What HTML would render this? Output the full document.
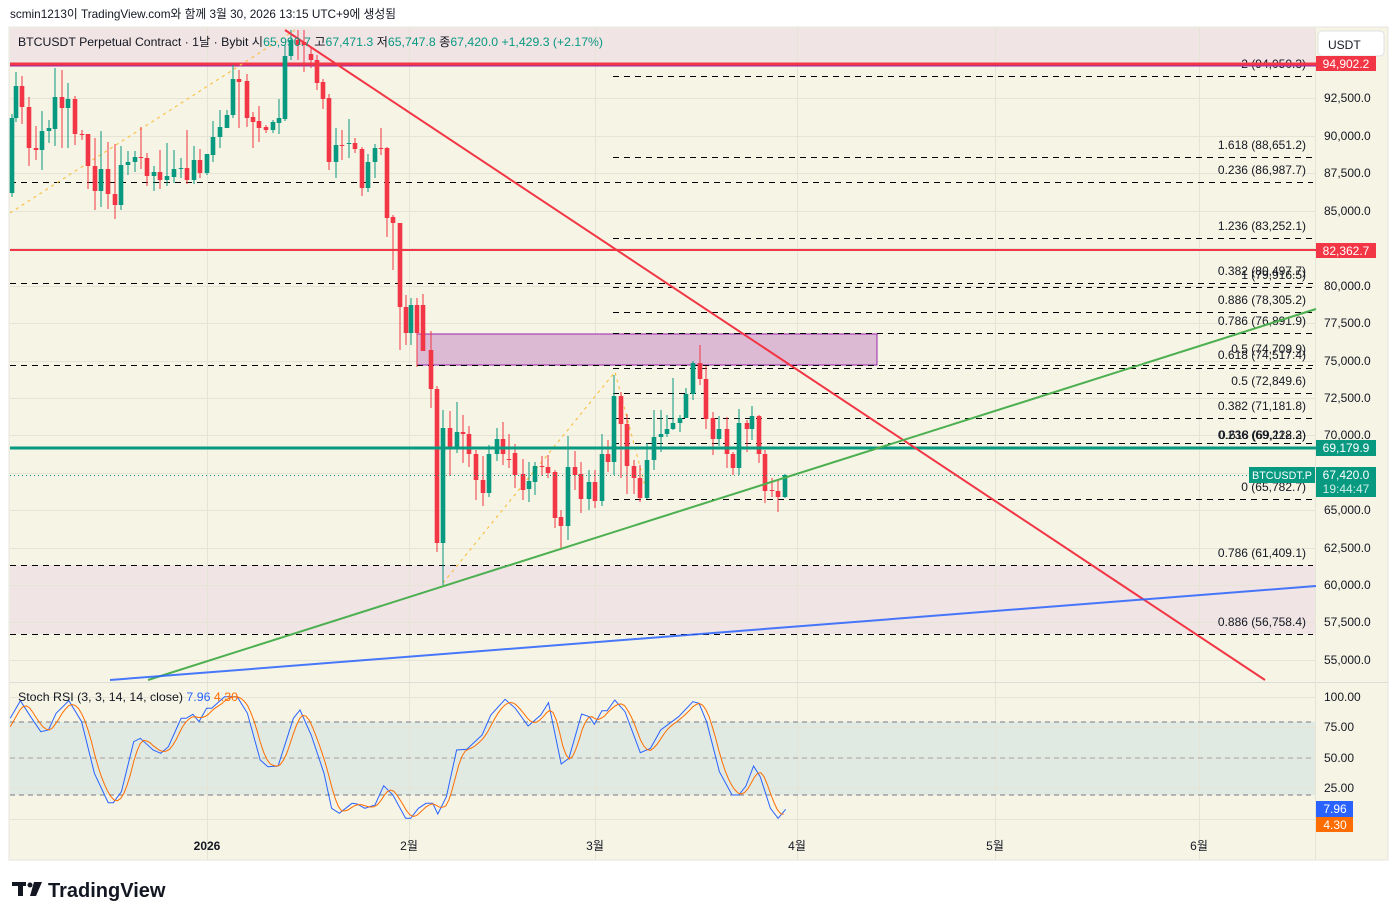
<!DOCTYPE html>
<html><head><meta charset="utf-8"><style>
html,body{margin:0;padding:0;background:#fff;width:1397px;height:920px;overflow:hidden}
svg{display:block}
text{font-family:"Liberation Sans","Noto Sans CJK KR",sans-serif}
</style></head><body>
<svg id="s" width="1397" height="920" viewBox="0 0 1397 920" xmlns="http://www.w3.org/2000/svg">
<rect x="0" y="0" width="1397" height="920" fill="#fff"/>
<text x="10" y="18" font-size="12" fill="#131722" textLength="386" lengthAdjust="spacingAndGlyphs">scmin1213이 TradingView.com와 함께 3월 30, 2026 13:15 UTC+9에 생성됨</text>
<rect x="9" y="27" width="1379" height="833" fill="#f6f4e4" stroke="#e6e4dc"/>
<rect x="10" y="28" width="1306" height="36" fill="#f0e4e4"/>
<rect x="10" y="565" width="1306" height="69" fill="#f0e4e4"/>
<rect x="10" y="722" width="1305" height="73" fill="#e0eae3"/>
<g id="grid" stroke="#e6e4d6" stroke-width="1"></g>
<line x1="10" y1="682.5" x2="1388" y2="682.5" stroke="#dcdcd8"/>
<line x1="1315.5" y1="28" x2="1315.5" y2="860" stroke="#e6e4d6"/>
<rect x="417" y="334" width="460" height="31" fill="#dcbad4" stroke="#9c27b0" stroke-width="1"/>
<g id="fib" stroke="#000" stroke-width="1" stroke-dasharray="6,5"></g>
<g id="fibt" font-size="12" fill="#131722" text-anchor="end"></g>
<line x1="10" y1="64" x2="1316" y2="64" stroke="#f23645" stroke-width="3"/>
<line x1="10" y1="66" x2="1316" y2="66" stroke="#9c27b0" stroke-width="1"/>
<line x1="10" y1="250" x2="1316" y2="250" stroke="#f23645" stroke-width="2"/>
<polyline points="10,213 295,30" stroke="#f9c24a" stroke-width="1.2" stroke-dasharray="3,4" fill="none"/>
<polyline points="443,583 615,372 648,497" stroke="#f9c24a" stroke-width="1.2" stroke-dasharray="3,4" fill="none"/>
<g id="candles"></g>
<line x1="10" y1="448" x2="1316" y2="448" stroke="#089981" stroke-width="3"/>
<line x1="10" y1="475.5" x2="1316" y2="475.5" stroke="#089981" stroke-width="1" stroke-dasharray="1,3"/>
<line x1="285" y1="30" x2="1265" y2="680" stroke="#f23645" stroke-width="2"/>
<line x1="148" y1="680" x2="1316" y2="309" stroke="#4caf50" stroke-width="2"/>
<line x1="110" y1="680" x2="1316" y2="586" stroke="#2962ff" stroke-width="2" opacity="0.85"/>
<g stroke="#787b86" stroke-width="1" stroke-dasharray="5,4">
<line x1="10" y1="722" x2="1315" y2="722"/><line x1="10" y1="758" x2="1315" y2="758" opacity="0.6"/><line x1="10" y1="795" x2="1315" y2="795"/></g>
<polyline id="rb" fill="none" stroke="#2962ff" stroke-width="1"/>
<polyline id="ro" fill="none" stroke="#ff6d00" stroke-width="1"/>
<text x="18" y="701" font-size="12" fill="#131722" textLength="220" lengthAdjust="spacingAndGlyphs">Stoch RSI (3, 3, 14, 14, close) <tspan fill="#2962ff">7.96</tspan> <tspan fill="#ff6d00">4.30</tspan></text>
<text x="18" y="46" font-size="12" fill="#131722" textLength="585" lengthAdjust="spacingAndGlyphs">BTCUSDT Perpetual Contract · 1날 · Bybit <tspan>시</tspan><tspan fill="#089981">65,990.7</tspan> <tspan>고</tspan><tspan fill="#089981">67,471.3</tspan> <tspan>저</tspan><tspan fill="#089981">65,747.8</tspan> <tspan>종</tspan><tspan fill="#089981">67,420.0 +1,429.3 (+2.17%)</tspan></text>
<g id="ax" font-size="12" fill="#131722"></g>
<rect x="1318" y="31" width="66" height="25" rx="4" fill="#fff" stroke="#e0e0e0"/>
<text x="1328" y="49" font-size="12" fill="#131722">USDT</text>
<rect x="1316" y="56" width="60" height="15" fill="#f23645"/><text x="1346" y="68" font-size="12" fill="#fff" text-anchor="middle">94,902.2</text>
<rect x="1316" y="243" width="60" height="15" fill="#f23645"/><text x="1346" y="255" font-size="12" fill="#fff" text-anchor="middle">82,362.7</text>
<rect x="1316" y="440" width="60" height="16" fill="#089981"/><text x="1346" y="452" font-size="12" fill="#fff" text-anchor="middle">69,179.9</text>
<rect x="1316" y="467" width="60" height="30" fill="#089981"/><text x="1346" y="479" font-size="12" fill="#fff" text-anchor="middle">67,420.0</text><text x="1346" y="493" font-size="12" fill="#cdeee6" text-anchor="middle">19:44:47</text>
<rect x="1249" y="467" width="66" height="16" fill="#089981"/><text x="1282" y="479" font-size="11" fill="#fff" text-anchor="middle" textLength="60" lengthAdjust="spacingAndGlyphs">BTCUSDT.P</text>
<rect x="1316" y="801" width="37" height="16" fill="#2962ff"/><text x="1335" y="813" font-size="12" fill="#fff" text-anchor="middle">7.96</text>
<rect x="1316" y="817" width="37" height="15" fill="#ff6d00"/><text x="1335" y="829" font-size="12" fill="#fff" text-anchor="middle">4.30</text>
<g font-size="12" fill="#131722" text-anchor="middle">
<text x="207" y="850" font-weight="bold">2026</text><text x="409" y="850">2월</text><text x="595" y="850">3월</text><text x="797" y="850">4월</text><text x="995" y="850">5월</text><text x="1199" y="850">6월</text></g>
<g fill="#131722"><rect x="12" y="882" width="14" height="4"/><rect x="18" y="882" width="5" height="14"/><circle cx="30" cy="885" r="2.5"/><polygon points="34,882 42,882 36,896 30,896"/></g>
<text x="48" y="897" font-size="20" font-weight="bold" fill="#131722">TradingView</text>
</svg>
<script>
var NS="http://www.w3.org/2000/svg",g;
function el(p,t,a,txt){var e=document.createElementNS(NS,t);for(var k in a)e.setAttribute(k,a[k]);if(txt)e.textContent=txt;p.appendChild(e);return e;}
g=document.getElementById('grid');
[207,409,595,797,995,1199].forEach(function(x){el(g,'line',{x1:x+.5,y1:28,x2:x+.5,y2:860});});
[98,136,173,211,248,286,323,361,398,435,473,510,548,585,622,660,697,727,758,788,819].forEach(function(y){el(g,'line',{x1:10,y1:y+.5,x2:1315,y2:y+.5});});
var fb=document.getElementById('fib'),ft=document.getElementById('fibt');
[[76,613],[157,613],[182,10],[238,613],[283,10],[287,613],[312,613],[333,613],[365,10],[368,613],[393,613],[418,613],[443,613],[499,613],[565,10],[634,10]].forEach(function(f){el(fb,'line',{x1:f[1],y1:f[0]+.5,x2:1313,y2:f[0]+.5});});
[[68,"2 (94,050.3)"],[149,"1.618 (88,651.2)"],[174,"0.236 (86,987.7)"],[230,"1.236 (83,252.1)"],[275,"0.382 (80,497.7)"],[279,"1 (79,916.5)"],[304,"0.886 (78,305.2)"],[325,"0.786 (76,891.9)"],[353,"0.5 (74,709.9)"],[359,"0.618 (74,517.4)"],[385,"0.5 (72,849.6)"],[410,"0.382 (71,181.8)"],[439,"0.236 (69,228.2)"],[439,"0.618 (69,112.3)"],[491,"0 (65,782.7)"],[557,"0.786 (61,409.1)"],[626,"0.886 (56,758.4)"]].forEach(function(f){el(ft,'text',{x:1306,y:f[0]},f[1]);});
var ax=document.getElementById('ax');
[["92,500.0",98],["90,000.0",136],["87,500.0",173],["85,000.0",211],["80,000.0",286],["77,500.0",323],["75,000.0",361],["72,500.0",398],["70,000.0",435],["65,000.0",510],["62,500.0",548],["60,000.0",585],["57,500.0",622],["55,000.0",660],["100.00",697],["75.00",727],["50.00",758],["25.00",788]].forEach(function(a){el(ax,'text',{x:1324,y:a[1]+4},a[0]);});
var C=[[12,193,118],[16,118,86,72,122],[22,86,107,76,124],[29,107,148,97,166],[36,148,150,126,160],[42,150,131,111,170],[49,131,128,120,143],[55,129,97,68,146],[62,97,108,70,148],[68,108,99,83,148],[75,99,134,96,145],[82,134,134,130,140],[88,134,166,137,189],[95,166,191,138,210],[101,191,169,131,207],[108,169,194,142,209],[115,194,205,144,219],[121,205,165,146,210],[128,165,162,151,175],[135,162,157,151,172],[141,157,157,127,169],[147,158,176,153,186],[154,176,172,166,191],[160,172,180,150,189],[167,180,176,143,186],[174,177,169,150,183],[181,169,168,158,178],[187,168,180,130,184],[194,180,160,146,184],[200,160,173,149,178],[207,173,154,158,175],[213,155,137,121,162],[220,137,127,110,148],[227,128,115,110,128],[233,115,79,65,118],[239,79,82,70,128],[247,81,118,74,127],[253,117,122,112,148],[259,121,128,106,142],[266,127,130,125,133],[273,130,122,120,133],[279,123,118,99,134],[285,119,56,45,121],[291,56,40,30,60],[298,40,45,30,60],[304,42,45,30,72],[311,54,60,47,68],[317,60,83,55,90],[323,82,99,79,109],[329,98,162,94,170],[336,162,145,128,178],[342,145,145,130,160],[349,144,143,119,158],[355,143,149,138,153],[362,149,188,147,196],[368,188,162,154,192],[375,162,148,144,178],[381,148,148,128,155],[387,148,218,147,237],[393,217,223,215,270],[400,223,307,226,350],[406,307,333,295,345],[411,333,305,298,345],[417,305,333,298,367],[423,305,351,294,350],[431,350,389,331,408],[437,389,543,386,552],[443,543,428,410,585],[450,428,448,411,476],[457,448,432,402,453],[463,432,434,415,463],[469,434,454,426,467],[476,454,480,450,500],[483,480,493,456,506],[489,493,454,445,497],[497,454,439,428,461],[503,439,454,422,465],[509,459,459,434,468],[515,453,475,444,488],[523,474,490,459,500],[529,489,481,462,502],[535,482,466,462,495],[542,466,466,456,476],[548,467,473,455,478],[555,472,518,470,528],[561,517,526,510,550],[568,526,467,436,540],[575,467,475,451,490],[581,474,499,462,513],[589,499,482,470,510],[595,482,501,470,508],[602,501,454,434,506],[608,454,462,440,472],[614,462,396,375,475],[621,396,424,392,478],[627,424,466,414,494],[634,466,478,460,494],[640,478,498,465,502],[647,498,460,443,499],[654,460,437,410,470],[661,437,434,410,452],[667,434,429,415,437],[673,429,423,378,430],[680,423,418,415,432],[686,418,394,388,402],[693,394,363,361,400],[700,363,379,345,385],[706,379,419,366,429],[713,418,439,412,455],[719,439,429,416,446],[727,429,454,417,468],[733,454,468,452,475],[739,468,423,409,475],[747,423,429,420,452],[752,429,416,406,440],[759,416,454,415,463],[765,454,491,450,503],[772,490,490,478,497],[778,491,497,479,512],[785,497,475,474,498]];
var cg=document.getElementById('candles');
C.forEach(function(c){var x=c[0],o=c[1],cl=c[2],up=cl<o,col=up?'#089981':'#f23645';
var hi=c[3]!==undefined?c[3]:Math.min(o,cl)-4,lo=c[4]!==undefined?c[4]:Math.max(o,cl)+4;
el(cg,'line',{x1:x,y1:hi,x2:x,y2:lo,stroke:col,'stroke-width':1});
var t=Math.min(o,cl),h=Math.max(1,Math.abs(o-cl));el(cg,'rect',{x:x-2.3,y:t,width:4.6,height:h,fill:col});});
var B=[[20,115],[40,62],[60,110],[80,155],[95,150],[110,100],[135,62],[160,125],[185,280],[212,368],[222,368],[238,335],[262,185],[275,175],[300,210],[315,220],[330,200],[355,115],[365,115],[378,103],[390,125],[405,85],[415,85],[440,50],[465,50],[485,100],[510,240],[525,260],[545,258],[575,115],[588,90],[610,165],[635,280],[650,385],[665,400],[690,370],[700,372],[715,385],[735,375],[752,317],[770,345],[795,415],[805,415],[820,385],[835,370],[848,370],[858,402],[875,350],[895,210],[915,208],[945,165],[962,105],[990,58],[1010,85],[1035,138],[1060,105],[1075,68],[1100,252],[1115,235],[1140,102],[1155,110],[1165,133],[1180,92],[1190,92],[1205,60],[1225,95],[1255,218],[1275,205],[1295,150],[1330,110],[1358,65],[1370,70],[1385,125],[1410,275],[1435,345],[1448,345],[1462,318],[1477,258],[1490,290],[1510,385],[1525,415],[1540,388]].map(function(p){return [p[0]/1.96,680+p[1]/3];});
document.getElementById('rb').setAttribute('points',B.map(function(p){return p[0].toFixed(1)+','+p[1].toFixed(1);}).join(' '));
function interp(x){for(var i=1;i<B.length;i++){if(B[i][0]>=x){var a=B[i-1],b=B[i];return a[1]+(b[1]-a[1])*(x-a[0])/(b[0]-a[0]);}}return B[B.length-1][1];}
var O=[];for(var x=B[0][0];x<=B[B.length-1][0]+0.1;x+=3.25){var v=(interp(x)+interp(x-3.25)+interp(x-6.5)+interp(x-9.75))/4;O.push(x.toFixed(1)+','+v.toFixed(1));}
document.getElementById('ro').setAttribute('points',O.join(' '));
</script>
</body></html>
